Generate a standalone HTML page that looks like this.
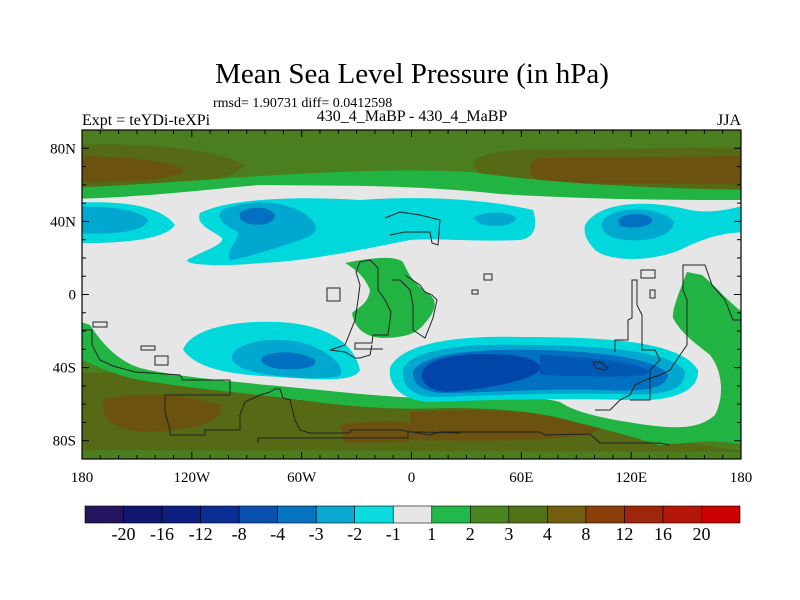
<!DOCTYPE html>
<html><head><meta charset="utf-8"><style>
body{margin:0;background:#fff;}
svg{display:block;font-family:"Liberation Serif",serif;}
</style></head><body>
<svg id="chart" width="800" height="600" viewBox="0 0 800 600">
<text x="412" y="83" text-anchor="middle" font-size="29">Mean Sea Level Pressure (in hPa)</text>
<text x="213" y="107" font-size="14">rmsd= 1.90731 diff= 0.0412598</text>
<text x="82" y="125" font-size="16">Expt = teYDi-teXPi</text>
<text x="412" y="121" text-anchor="middle" font-size="16">430_4_MaBP - 430_4_MaBP</text>
<text x="741" y="125" text-anchor="end" font-size="16">JJA</text>
<defs><clipPath id="pc"><rect x="82" y="130" width="659" height="329"/></clipPath></defs>
<g clip-path="url(#pc)">
<rect x="82" y="130" width="659" height="329" fill="#4a7e1f"/>
<path d="M70,145 C150,142 220,150 245,165 C230,185 150,192 70,192Z" fill="#566a15"/>
<path d="M70,156 C130,156 175,162 185,170 C175,180 130,182 70,182Z" fill="#6b5210"/>
<path d="M750,147 L520,150 C480,152 470,160 475,168 C485,185 560,197 750,198Z" fill="#566a15"/>
<path d="M750,156 L540,158 C525,162 527,178 545,183 L750,184Z" fill="#6b5210"/>
<path d="M70,373 C150,370 250,383 330,396 C380,404 440,402 530,404 C580,412 640,432 700,445 L750,452 L750,470 L70,470Z" fill="#566a15"/>
<path d="M103,400 C130,390 190,395 220,405 C225,420 200,430 150,432 C110,432 100,415 103,400Z" fill="#6b5210"/>
<path d="M410,412 C470,408 560,410 603,425 C600,440 520,442 410,440Z" fill="#6b5210"/>
<path d="M340,425 C370,420 400,420 410,424 L410,442 L345,443Z" fill="#6b5210"/>
<path d="M70,450 L750,452 L750,470 L70,470Z" fill="#4a7e1f"/>
<!-- bright green band -->
<path d="M70,188 C150,184 200,180 260,176 C330,172 400,168 470,172 C560,184 640,188 750,190 L750,445 C730,443 715,440 700,442 L660,445 C630,436 600,428 575,422 C540,412 500,408 450,408 C400,410 360,408 300,400 C240,392 180,388 130,378 C100,370 85,360 70,355Z" fill="#21b443"/>
<!-- gray zone -->
<path d="M70,199 C150,197 200,190 260,185 C330,186 410,184 500,194 C600,200 680,200 750,200 L750,316 C735,310 720,290 702,275 L687,272 C678,295 672,310 673,318 C682,335 698,345 710,355 C722,370 725,395 715,415 C700,428 680,430 640,424 C600,418 575,412 560,402 C530,394 480,396 430,398 C400,398 360,394 320,390 C260,384 180,378 140,368 C115,360 100,340 90,325 L70,318Z" fill="#e6e6e6"/>
<path d="M345,263 C370,258 395,255 403,262 C408,272 410,280 430,295 C437,300 437,310 425,323 C418,332 410,337 385,338 C370,338 355,332 352,313 C357,308 368,305 370,290 C366,280 360,272 345,263Z" fill="#21b443"/>
<path d="M70,203 C120,200 160,205 175,225 C165,240 120,244 70,243Z" fill="#00d8dc"/>
<path d="M70,207 C110,205 140,210 148,220 C145,232 115,235 70,233Z" fill="#00a8d0"/>
<path d="M200,213 C230,198 300,196 360,200 C420,196 480,198 533,210 C538,225 535,238 520,240 C470,242 440,238 410,240 C350,252 300,262 260,263 C220,267 185,265 187,260 C200,252 225,245 222,238 C212,230 195,225 200,213Z" fill="#00d8dc"/>
<path d="M222,210 C250,198 290,200 310,218 C320,228 318,234 300,240 C270,250 245,258 230,260 C225,250 240,240 238,232 C225,226 215,218 222,210Z" fill="#00a8d0"/>
<path d="M240,213 C250,205 270,206 275,215 C274,224 262,226 250,224 C242,222 238,218 240,213Z" fill="#0070c0"/>
<path d="M473,218 C485,210 510,211 516,218 C514,226 495,228 480,224Z" fill="#00a8d0"/>
<path d="M585,225 C600,200 650,200 690,210 C720,215 740,205 750,205 L750,232 C720,232 700,240 680,250 C650,262 610,262 595,250 C588,242 583,235 585,225Z" fill="#00d8dc"/>
<path d="M602,222 C612,205 660,205 674,222 C672,236 650,242 625,240 C608,238 600,232 602,222Z" fill="#00a8d0"/>
<path d="M618,220 C625,212 648,212 653,220 C650,228 630,229 620,226Z" fill="#0070c0"/>
<path d="M183,350 C190,330 230,320 280,322 C330,325 355,345 360,370 C355,382 320,380 280,377 C240,375 200,372 183,350Z" fill="#00d8dc"/>
<path d="M232,355 C240,340 280,335 310,345 C335,355 345,368 340,376 C320,380 280,378 255,372 C238,368 230,362 232,355Z" fill="#00a8d0"/>
<path d="M262,358 C270,350 300,350 315,360 C318,368 300,370 280,369 C266,367 260,363 262,358Z" fill="#0070c0"/>
<path d="M390,368 C400,345 450,335 520,337 C600,337 680,340 698,370 C700,392 670,402 630,400 C560,398 480,400 430,402 C400,400 388,385 390,368Z" fill="#00d8dc"/>
<path d="M403,370 C410,350 460,343 530,345 C610,346 675,352 685,372 C685,392 660,396 620,394 C560,392 480,396 430,397 C410,394 402,385 403,370Z" fill="#00a8d0"/>
<path d="M413,372 C420,355 470,348 540,350 C610,352 660,360 668,375 C666,390 640,392 600,390 C550,388 480,393 440,393 C420,390 412,383 413,372Z" fill="#0070c0"/>
<path d="M540,355 C590,357 640,362 650,372 C645,378 600,377 540,375Z" fill="#0058b4"/>
<path d="M422,372 C430,355 470,352 510,355 C535,358 545,365 538,372 C525,382 480,390 445,392 C428,390 420,382 422,372Z" fill="#0045a8"/>
<g fill="none" stroke="#222" stroke-width="1">
<path d="M82,330 L92,330 L92,345 L100,360 L113,366 L135,372 L180,375 L183,380 L230,380 L230,395 L165,395 L165,412 L170,430 L170,435 L205,435 L205,430 L240,430 L240,415 L245,402 L260,395 L270,392 L275,389 L280,389 L283,398 L290,400 L295,420 L300,430 L310,433 L350,433 L350,430 L400,430 L430,435 L440,432 L540,432 L545,435 L590,434 L600,443 L660,443 L670,445"/>
<path d="M258,443 L258,438 L408,438 L408,432 L420,432 L460,433"/>
<path d="M383,349 L355,349 L355,343 L372,343 L373,335 L388,335 L391,312 L385,300 L378,290 L378,268 L370,260 L360,262 L356,272 L360,285 L358,300 L355,320 L345,345 L330,350 L345,352 L355,358 L360,358 L370,355 L372,345"/>
<path d="M327,288 L340,288 L340,301 L327,301Z"/>
<path d="M392,280 L400,280 L410,290 L413,305 L413,330 L425,338 L433,318 L437,300 L432,295 L425,292 L420,285 L405,275"/>
<path d="M385,218 L400,212 L420,215 L440,220 L438,245 L432,243 L430,232 L405,232 L390,235"/>
<path d="M484,274 L492,274 L492,280 L484,280Z M472,290 L478,290 L478,294 L472,294Z"/>
<path d="M615,352 L615,340 L628,340 L628,320 L632,318 L632,280 L637,280 L637,305 L642,315 L642,350 L655,350 L660,360 L650,370 L650,400 L630,400"/>
<path d="M595,410 L610,410 L620,400 L630,395 L635,385 L645,380 L660,375 L670,370 L680,355 L687,345 L687,300 L683,290 L683,265 L705,265 L712,285 L725,300 L733,320 L741,320"/>
<path d="M641,270 L655,270 L655,278 L641,278Z M650,290 L655,290 L655,298 L650,298Z"/>
<path d="M93,322 L107,322 L107,327 L93,327Z M141,346 L155,346 L155,350 L141,350Z M155,356 L168,356 L168,365 L155,365Z"/>
<path d="M593,362 L600,362 L608,368 L605,370 L596,368Z"/>
</g>
</g>
<rect x="82" y="130" width="659" height="329" fill="none" stroke="#000" stroke-width="1.2"/>
<g id="axes" stroke="#000" stroke-width="1"></g>
<g id="labels" font-size="15"></g>
<g id="cbar"></g>
<script>
const lonLabels=["180","120W","60W","0","60E","120E","180"];
const lonTicks=[-180,-120,-60,0,60,120,180];
const latLabels=["80N","40N","0","40S","80S"];
const latTicks=[80,40,0,-40,-80];
const cbarColors=["#24155e","#101770","#0d2080","#0b2e95","#0a50ae","#0873be","#0aa8d2","#0cdce0","#e6e6e6","#22b94a","#4a8522","#517218","#735d0f","#8a3e0a","#a0260b","#b4160a","#cc0000"];
const cbarLevels=["-20","-16","-12","-8","-4","-3","-2","-1","1","2","3","4","8","12","16","20"];
const X0=82,X1=741,Y0=130,Y1=459;
const xs=lon=>X0+(lon+180)/360*(X1-X0);
const ys=lat=>Y0+(90-lat)/180*(Y1-Y0);
const NS="http://www.w3.org/2000/svg";
const ax=document.getElementById('axes'),lb=document.getElementById('labels'),cb=document.getElementById('cbar');
function ln(x1,y1,x2,y2){const l=document.createElementNS(NS,'line');l.setAttribute('x1',x1);l.setAttribute('y1',y1);l.setAttribute('x2',x2);l.setAttribute('y2',y2);


ax.appendChild(l);}
for(let lon=-180;lon<=180;lon+=10){const x=xs(lon),L=lon%60===0?7:4;ln(x,Y0,x,Y0+L);ln(x,Y1,x,Y1-L);}
for(let lat=-90;lat<=90;lat+=10){const y=ys(lat),L=lat%40===0?7:4;ln(X0,y,X0+L,y);ln(X1,y,X1-L,y);}
lonTicks.forEach((v,i)=>{const t=document.createElementNS(NS,'text');t.setAttribute('x',xs(v));t.setAttribute('y',482);t.setAttribute('text-anchor','middle');t.textContent=lonLabels[i];


lb.appendChild(t);});
latTicks.forEach((v,i)=>{const t=document.createElementNS(NS,'text');t.setAttribute('x',76);t.setAttribute('y',ys(v)+5);t.setAttribute('text-anchor','end');t.textContent=latLabels[i];


lb.appendChild(t);});
const CB0=85,CB1=740,bw=(CB1-CB0)/cbarColors.length;
cbarColors.forEach((c,i)=>{const r=document.createElementNS(NS,'rect');r.setAttribute('x',CB0+i*bw);r.setAttribute('y',506);r.setAttribute('width',bw);r.setAttribute('height',17);r.setAttribute('fill',c);r.setAttribute('stroke','#000');r.setAttribute('stroke-width','0.6');


cb.appendChild(r);});
cbarLevels.forEach((s,i)=>{const t=document.createElementNS(NS,'text');t.setAttribute('x',CB0+(i+1)*bw);t.setAttribute('y',540);t.setAttribute('text-anchor','middle');t.setAttribute('font-size','18');t.textContent=s;


cb.appendChild(t);});
</script>
</svg>
</body></html>
